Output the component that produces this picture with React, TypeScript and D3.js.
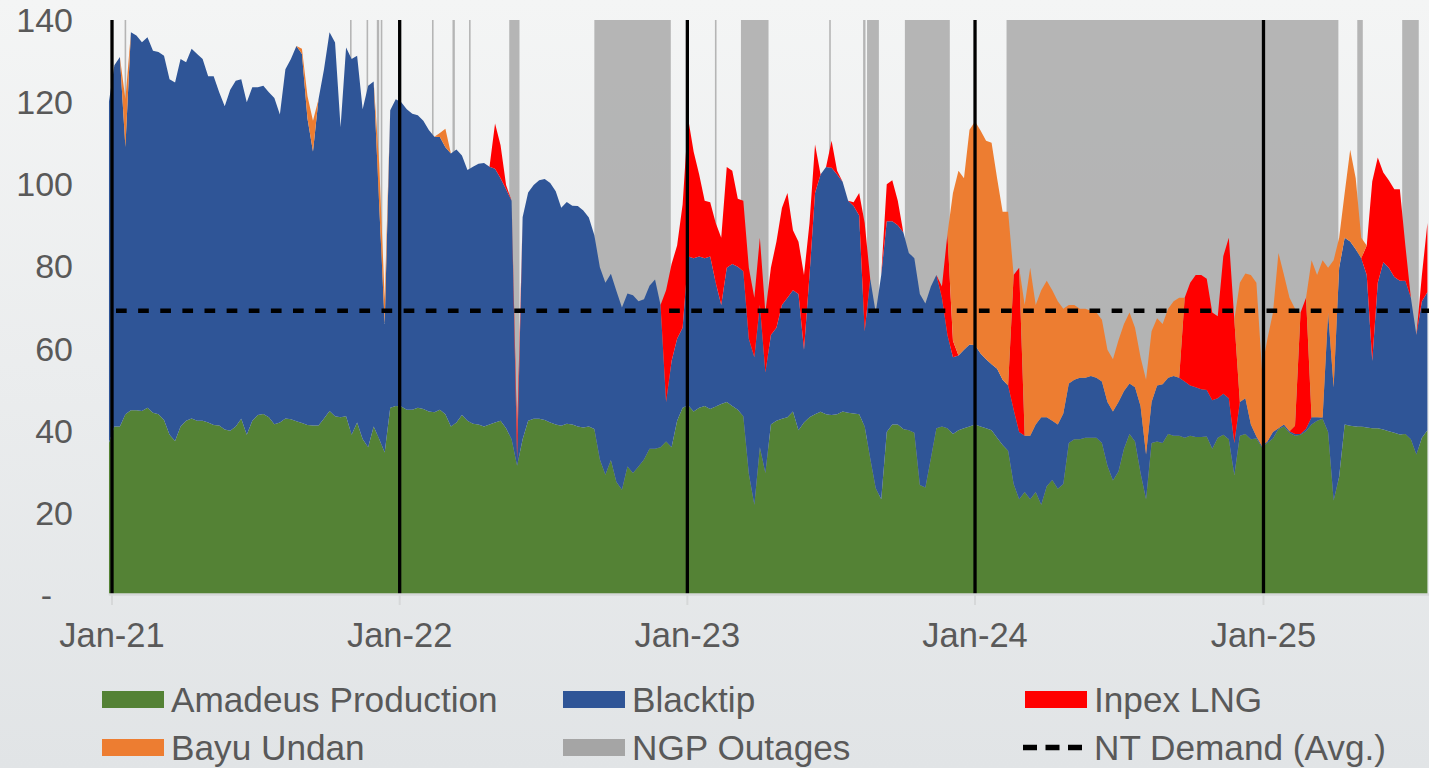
import React from "react";
import * as d3 from "d3";

// weekly readings, first sample Mon 28-Dec-2020
const START = new Date(2020, 11, 28);
const END = new Date(2025, 6, 30);

const amadeus = [
  37, 41, 41, 44, 45, 45, 44.8, 45.6, 44.4, 44, 42.6, 39, 37.5, 41, 42.4, 43, 42.4, 42.4, 42, 41.4, 41.3, 40.3, 40, 41, 42.9, 39, 42.4, 43.8, 44.1, 43.3, 41.6, 42, 43, 42.8, 42.3, 41.9, 41.4, 41.3, 41.3, 43, 44.8, 43.5, 43.3, 43.5, 39, 42, 38, 36,
  41, 38, 34.7, 45.6, 46, 45.9, 45.1, 45.1, 45.6, 45.3, 44.7, 44.5, 45.1, 44, 41, 42, 43.8, 42.4, 41.7, 41.5, 41, 41.5, 42, 42.4, 40.6, 37.9, 31.5, 37.9, 42.4, 42.9, 42.9, 42.6, 42, 41.5, 41.2, 41.7, 41.5, 41, 40.8, 41, 40.4, 33, 29.3, 32.9, 27.5, 25.6, 31.3, 29.7,
  31.3, 33, 35.6, 35.6, 36, 37.4, 36, 42.4, 45.6, 46.2, 44.7, 45.6, 46, 45.3, 45.9, 46.5, 47, 46, 45.1, 43.5, 29.5, 22, 36, 29.7, 41.5, 42.4, 42.9, 43.3, 44.7, 40.1, 42, 43.3, 44, 44.6, 44, 43.8, 44, 44.7, 44.4, 44.2, 44, 41, 33.3, 26, 23.3, 39.7, 41.5, 41.5,
  40.4, 40.1, 39.5, 26.8, 26.2, 33.3, 40.6, 41, 40.6, 39.2, 40.1, 40.6, 41, 41.5, 41, 40.6, 40.1, 38.3, 36.5, 35.1, 27, 23.3, 25.1, 23.3, 25.1, 22, 26.5, 28, 25.9, 27, 37, 37.9, 37.9, 38.3, 38.3, 38.3, 37, 31.5, 27.9, 30.1, 35.6, 39.2, 37.4, 29.7, 23.3, 37, 37.4, 37,
  39.2, 38.8, 38.8, 38.3, 38.8, 38.5, 38.5, 38.6, 35.6, 38.3, 39, 37.9, 29.2, 38.8, 39.2, 37.9, 38.1, 36, 37.1, 38.1, 40.4, 41, 39.5, 38.8, 39, 39.9, 41.5, 42.4, 42.9, 39.7, 23, 28.8, 41.5, 41.2, 41, 41, 40.8, 40.6, 40.6, 40.3, 39.9, 39.5, 39.1, 39.2, 37.9, 34.2, 38.3, 40.1,
];

const blacktip = [
  83, 88, 90, 65, 92, 91.2, 89.8, 90.2, 88.1, 88.2, 88.7, 86.6, 87.3, 89.5, 87.3, 90, 89.3, 88.1, 84.3, 84.9, 81.1, 78.7, 83, 84.2, 82.7, 81, 81.2, 79.8, 79.9, 79.1, 79.4, 75, 85, 87.7, 91.4, 89.8, 74.6, 66.7, 79.4, 85, 92.2, 91, 70.6, 89.8, 91.5, 89.3, 80.3, 88,
  84, 57, 31.3, 72.4, 74.7, 74.1, 73.2, 72.1, 71.2, 70.2, 68.5, 67.1, 66.4, 65, 66.5, 66.5, 63.2, 61.1, 62.6, 63.5, 64.2, 62.8, 61.8, 59.1, 58.2, 58.1, 1.5, 54.1, 55.6, 56.9, 58.1, 58.7, 58.3, 56.8, 53.1, 54, 53.3, 53.7, 52.8, 50.9, 47.2, 46.8, 46.7, 45.3, 46.5, 44.4, 42.1, 43.3,
  40.2, 39, 39.7, 41.2, 34.6, 9.6, 21, 20, 19.5, 36.2, 37.3, 36.8, 36, 37.1, 30.1, 24.1, 32.7, 34.6, 34.8, 35.3, 32.9, 35.9, 34.6, 24.5, 21.8, 22.7, 27.7, 29.1, 29.5, 33.2, 17.7, 34.6, 53.9, 57.8, 60.2, 60.2, 58.4, 55.9, 51.6, 50.5, 48.4, 23.2, 43.7, 42.8, 54.6, 51.3, 49.5, 48.5,
  47.9, 43.2, 42.5, 46.5, 44.8, 41.8, 37.3, 31.4, 22.7, 18.7, 18.2, 19.1, 20, 19.3, 17.8, 16.8, 16.1, 16.8, 15.9, 15.9, 18.1, 16.4, 13.7, 15.5, 16.4, 21.3, 16.8, 14.4, 15.6, 17.2, 14.5, 14.5, 15, 14.6, 15, 14.6, 15, 15.5, 16.8, 16.9, 14.1, 12.3, 13.2, 16.3, 10.9, 10, 13.6, 14.3,
  13.7, 14.5, 14.1, 13.7, 12.2, 12.1, 11.6, 11.3, 11.8, 9.6, 10, 10, 7.8, 8.2, 8.7, 3.6, 0.5, 0.3, 0.3, 1.6, 0.2, 0.5, 0.4, 0.4, 0.2, 0.6, 1.8, 0.9, 0.3, 29.1, 27.6, 50.9, 45.5, 44.9, 43.2, 41, 37.1, 16.4, 35.4, 40.7, 39.8, 37.9, 37.4, 37.3, 34.5, 29.1, 33.2, 33.7,
];

const inpexLng = [
  0, 0, 0, 0, 0, 0, 0, 0, 0, 0, 0, 0, 0, 0, 0, 0, 0, 0, 0, 0, 0, 0, 0, 0, 0, 0, 0, 0, 0, 0, 0, 0, 0, 0, 0, 0, 0, 0, 0, 0, 0, 0, 0, 0, 0, 0, 0, 0,
  0, 0, 0, 0, 0, 0, 0, 0, 0, 0, 0, 0, 0, 0, 0, 0, 0, 0, 0, 0, 0, 0, 11, 8, 1, 0, 6, 0, 0, 0, 0, 0, 0, 0, 0, 0, 0, 0, 0, 0, 0, 0, 0, 0, 0, 0, 0, 0,
  0, 0, 0, 0, 0, 27.2, 23.6, 22.7, 30, 33.6, 25.9, 20, 14, 13.2, 14.6, 16.4, 24.5, 22.7, 16.6, 17.2, 17.3, 14.5, 16.4, 14.6, 16.4, 20.9, 23.6, 25.5, 14.6, 12.7, 18.2, 12.7, 11.8, 0, 0, 6.6, 0.9, 0, 0, 0.9, 5.5, 26.4, 0, 0, 0, 9, 10, 6,
  0, 0, 0, 0, 0, 0, 0, 2.7, 24.6, 4, 0, 0, 0, 0, 0, 0, 0, 0, 0, 0, 32.8, 40, 0, 0, 0, 0, 0, 0, 0, 0, 0, 0, 0, 0, 0, 0, 0, 0, 0, 0, 0, 0, 0, 0, 0, 0, 0, 0,
  0, 0, 0, 20.4, 25, 27.3, 27.8, 27.1, 21.4, 20, 33.5, 39.1, 30, 0, 0, 0, 0, 0, 0, 0, 0, 0, 0, 2, 29.6, 31.9, 0, 0, 0, 0, 0, 0, 0, 0, 0, 0, 7.2, 43.7, 30.5, 21.9, 21.3, 21.4, 22.3, 8.6, 0, 0, 6.4, 16.8,
];

const bayuUndan = [
  0, 0, 0, 11.7, 0, 0, 0, 0, 0, 0, 0, 0, 0, 0, 0, 0, 0, 0, 0, 0, 0, 0, 0, 0, 0, 0, 0, 0, 0, 0, 0, 0, 0, 0, 0, 1.3, 5.5, 7.5, 0, 0, 0, 0, 0, 0, 0, 0, 0, 0,
  0, 10, 6, 0, 0, 0, 0, 0, 0, 0, 0, 0, 1, 4.5, 0, 0, 0, 0, 0, 0, 0, 0, 0, 0, 0, 0, 0, 0, 0, 0, 0, 0, 0, 0, 0, 0, 0, 0, 0, 0, 0, 0, 0, 0, 0, 0, 0, 0,
  0, 0, 0, 0, 0, 0, 0, 0, 0, 0, 0, 0, 0, 0, 0, 0, 0, 0, 0, 0, 0, 0, 0, 0, 0, 0, 0, 0, 0, 0, 0, 0, 0, 0, 0, 0, 0, 0, 0, 0, 0, 0, 0, 0, 0, 0, 0, 0,
  0, 0, 0, 0, 0, 0, 0, 0, 0, 36, 45, 41.8, 52.3, 54.5, 54.3, 53.2, 53.9, 46.4, 40.9, 42.3, 0, 0, 31.8, 40.9, 29.1, 30.9, 33.2, 31.8, 30, 25.5, 19.1, 18.2, 16.8, 16.8, 15.9, 15.9, 15, 12.7, 12.7, 15, 16.3, 17.3, 14.5, 11.9, 18.2, 17.2, 16.4, 14.7,
  16.8, 18.2, 19.5, 0, 0, 0, 0, 0, 0, 0, 0, 0, 0, 29, 30.4, 36.4, 37.4, 18.8, 25, 29, 42.7, 36.4, 32.5, 28.5, 0, 0, 38.2, 34.6, 38.3, 10.9, 30.9, 7.3, 10.9, 22.3, 17.3, 5, 0, 0, 0, 0, 0, 0, 0, 0, 0, 0, 0, 0,
];

// NGP outage periods (shown full height)
const ngpOutages = [
  ["2021-01-17", "2021-01-19"], ["2021-10-30", "2021-11-01"], ["2021-11-20", "2021-11-22"],
  ["2021-12-03", "2021-12-06"], ["2021-12-08", "2021-12-10"], ["2022-02-11", "2022-02-13"],
  ["2022-03-09", "2022-03-12"], ["2022-03-30", "2022-04-01"], ["2022-05-20", "2022-06-02"],
  ["2022-09-05", "2022-12-11"], ["2023-02-05", "2023-02-07"], ["2023-03-10", "2023-04-14"],
  ["2023-06-30", "2023-07-02"], ["2023-08-12", "2023-08-15"], ["2023-08-17", "2023-09-01"],
  ["2023-10-04", "2023-11-30"], ["2024-02-10", "2025-04-06"], ["2025-04-30", "2025-05-07"],
  ["2025-06-26", "2025-07-17"],
];

const ntDemandAvg = 69.2;
const yTicks = [0, 20, 40, 60, 80, 100, 120, 140];

const series = [
  { key: "amadeus", label: "Amadeus Production", color: "#548235" },
  { key: "blacktip", label: "Blacktip", color: "#2F5597" },
  { key: "inpex", label: "Inpex LNG", color: "#FF0000" },
  { key: "bayu", label: "Bayu Undan", color: "#ED7D31" },
];

const parse = d3.timeParse("%Y-%m-%d");
const FONT = "'Liberation Sans', Arial, sans-serif";
const TEXT = "#595959";

export default function App() {
  const W = 1429, H = 768;
  const x = d3.scaleTime().domain([START, END]).range([108.85, W]);
  const y = d3.scaleLinear().domain([0, 140]).range([595, 20]);

  const rows = amadeus.map((v, i) => ({
    date: d3.timeDay.offset(START, 7 * i),
    amadeus: v,
    blacktip: blacktip[i],
    inpex: inpexLng[i],
    bayu: bayuUndan[i],
  }));
  const layers = d3.stack<any>().keys(series.map(s => s.key))(rows);
  const area = d3.area<any>()
    .x(d => x(d.data.date))
    .y0(d => y(d[0]))
    .y1(d => y(d[1]));
  const outageArea = d3.area<Date>().x(d => x(d)).y0(y(0)).y1(y(140));

  const years = d3.timeYear.range(new Date(2021, 0, 1), new Date(2025, 0, 2));
  const fmt = d3.timeFormat("%b-%y");

  // dash pattern of the demand line starts just after the Jan-21 marker
  const period = 22.125;
  const firstDash = x(years[0]) + 4;
  const dashOffset = period - (firstDash - x(START));

  const legend = [
    { label: "Amadeus Production", color: "#548235", kind: "box" },
    { label: "Blacktip", color: "#2F5597", kind: "box" },
    { label: "Inpex LNG", color: "#FF0000", kind: "box" },
    { label: "Bayu Undan", color: "#ED7D31", kind: "box" },
    { label: "NGP Outages", color: "#A5A5A5", kind: "box" },
    { label: "NT Demand (Avg.)", color: "#000", kind: "dash" },
  ];
  const legendCols = [102, 563, 1025];
  const legendRows = [691, 739];

  return (
    <div style={{ position: "absolute", left: 0, top: 0 }}>
      <svg width={W} height={H} style={{ display: "block" }} fontFamily={FONT}>
        <defs>
          <linearGradient id="bg" x1="0" y1="0" x2="0" y2="1">
            <stop offset="0" stopColor="#f4f5f5" />
            <stop offset="1" stopColor="#e1e4e6" />
          </linearGradient>
          <clipPath id="plot">
            <rect x={x(START)} y={0} width={W - x(START)} height={y(0)} />
          </clipPath>
        </defs>
        <rect width={W} height={H} fill="url(#bg)" />

        <g clipPath="url(#plot)">
          {ngpOutages.map(([a, b], i) => (
            <path key={i} d={outageArea([parse(a)!, parse(b)!]) || ""} fill="#A5A5A5" fillOpacity={0.8} />
          ))}
          {layers.map((l, i) => (
            <path key={l.key} d={area(l) || ""} fill={series[i].color} />
          ))}
          {years.map(d => (
            <line key={+d} x1={x(d)} x2={x(d)} y1={y(140)} y2={y(0)} stroke="#000" strokeWidth={3.3} />
          ))}
          <line
            x1={x(START)} x2={W} y1={y(ntDemandAvg)} y2={y(ntDemandAvg)}
            stroke="#000" strokeWidth={4.5}
            strokeDasharray={`10.7 ${period - 10.7}`} strokeDashoffset={dashOffset}
          />
        </g>

        {/* x axis */}
        <line x1={x(START)} x2={W} y1={y(0) - 0.5} y2={y(0) - 0.5} stroke="#d6d8d9" strokeWidth={2.5} />
        {years.map(d => (
          <g key={+d}>
            <line x1={x(d)} x2={x(d)} y1={y(0)} y2={y(0) + 10} stroke="#d6d8d9" strokeWidth={2} />
            <text x={x(d)} y={647} textAnchor="middle" fontSize={34.5} fill={TEXT}>{fmt(d)}</text>
          </g>
        ))}

        {/* y axis labels */}
        {yTicks.map(v => (
          <text key={v} x={v === 0 ? 52 : 73} y={y(v) + 12} textAnchor="end" fontSize={34} fill={TEXT}>
            {v === 0 ? "-" : v}
          </text>
        ))}

        {/* legend */}
        {legend.map((it, i) => {
          const lx = legendCols[i % 3];
          const ly = legendRows[Math.floor(i / 3)];
          return (
            <g key={it.label}>
              {it.kind === "box" ? (
                <rect x={lx} y={ly} width={62} height={17} fill={it.color} />
              ) : (
                <line x1={lx - 2} x2={lx + 57} y1={ly + 8.5} y2={ly + 8.5} stroke="#000" strokeWidth={5.5} strokeDasharray="14 8.5" />
              )}
              <text x={lx + 69} y={ly + 21} fontSize={35.2} fill={TEXT}>{it.label}</text>
            </g>
          );
        })}
      </svg>
    </div>
  );
}
